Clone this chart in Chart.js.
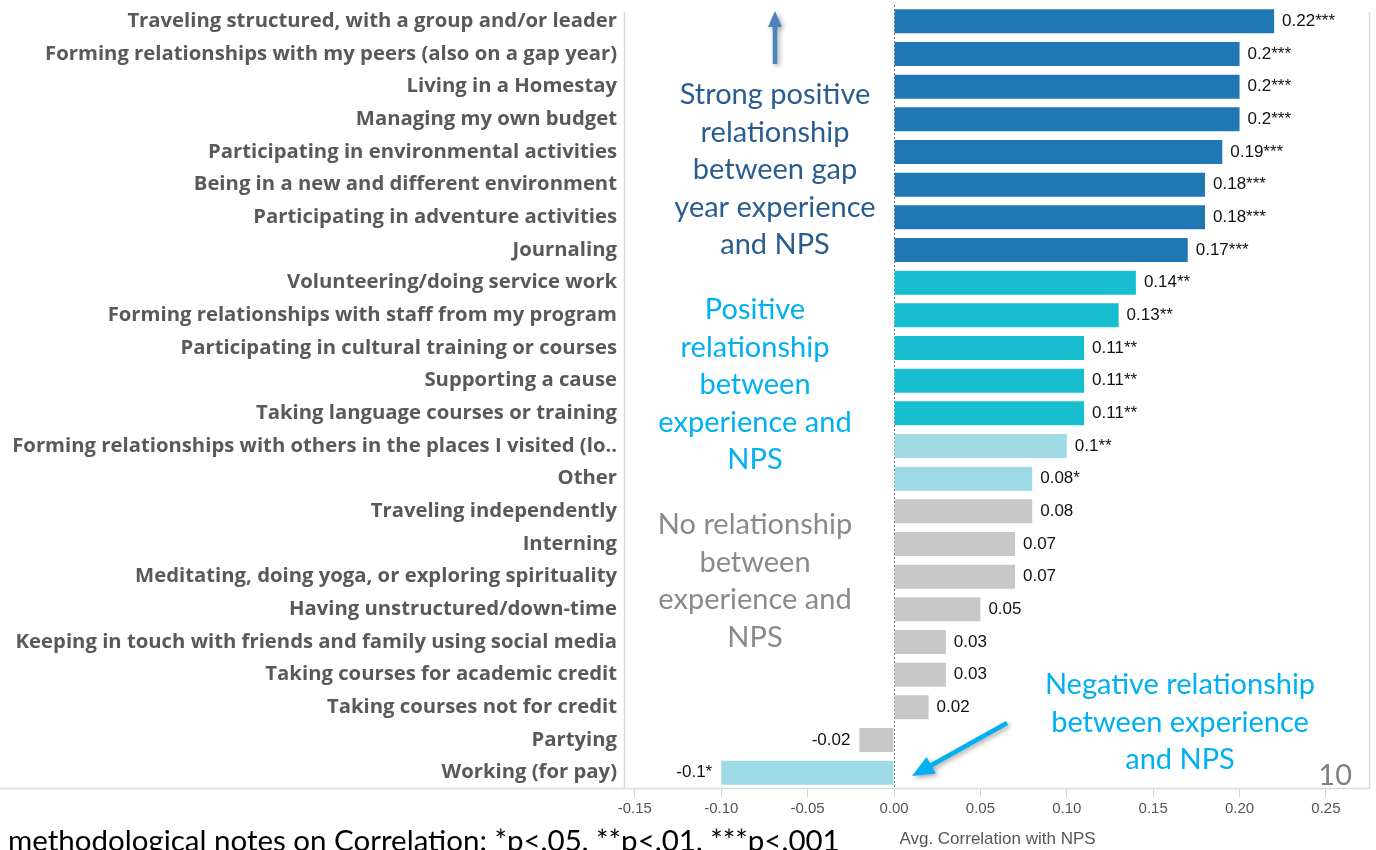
<!DOCTYPE html>
<html>
<head>
<meta charset="utf-8">
<script src="https://cdn.jsdelivr.net/npm/chart.js@4.4.1/dist/chart.umd.min.js"></script>
<style>
html,body{margin:0;padding:0;background:#fff;}
#wrap{position:relative;width:1376px;height:850px;overflow:hidden;}
canvas{display:block;}
</style>
</head>
<body>
<div id="wrap"><canvas id="c" width="1376" height="850"></canvas></div>
<script>
const categories = [
  'Traveling structured, with a group and/or leader',
  'Forming relationships with my peers (also on a gap year)',
  'Living in a Homestay',
  'Managing my own budget',
  'Participating in environmental activities',
  'Being in a new and different environment',
  'Participating in adventure activities',
  'Journaling',
  'Volunteering/doing service work',
  'Forming relationships with staff from my program',
  'Participating in cultural training or courses',
  'Supporting a cause',
  'Taking language courses or training',
  'Forming relationships with others in the places I visited (lo..',
  'Other',
  'Traveling independently',
  'Interning',
  'Meditating, doing yoga, or exploring spirituality',
  'Having unstructured/down-time',
  'Keeping in touch with friends and family using social media',
  'Taking courses for academic credit',
  'Taking courses not for credit',
  'Partying',
  'Working (for pay)'
];
const values = [0.22, 0.2, 0.2, 0.2, 0.19, 0.18, 0.18, 0.17, 0.14, 0.13, 0.11, 0.11, 0.11, 0.1, 0.08, 0.08, 0.07, 0.07, 0.05, 0.03, 0.03, 0.02, -0.02, -0.1];
const significance = ['***','***','***','***','***','***','***','***','**','**','**','**','**','**','*','','','','','','','','','*'];
const tiers = ['strong','strong','strong','strong','strong','strong','strong','strong','positive','positive','positive','positive','positive','weak','weak','none','none','none','none','none','none','none','none','weak'];
const xTicks = [-0.15, -0.1, -0.05, 0, 0.05, 0.1, 0.15, 0.2, 0.25];
const axisTitle = 'Avg. Correlation with NPS';
const footnote = 'methodological notes on Correlation: *p<.05, **p<.01, ***p<.001';
const pageNumber = '10';
const annotations = [
  {lines:['Strong positive','relationship','between gap','year experience','and NPS'], tier:'strongText'},
  {lines:['Positive','relationship','between','experience and','NPS'], tier:'posText'},
  {lines:['No relationship','between','experience and','NPS'], tier:'noneText'},
  {lines:['Negative relationship','between experience','and NPS'], tier:'posText'}
];

const tierColor = {strong:'#1F77B4', positive:'#17BECF', weak:'#9EDAE5', none:'#C7C7C7',
  strongText:'#2A5D8F', posText:'#00B0F0', noneText:'#8A8A8A'};
const annoPos = [[775,95],[755,310],[755,525],[1180,685]];

function arrow(ctx, x1, y1, x2, y2, color, shaft, headLen, headW){
  const a = Math.atan2(y2-y1, x2-x1);
  const L = Math.hypot(x2-x1, y2-y1);
  ctx.save();
  ctx.translate(x1,y1); ctx.rotate(a);
  ctx.shadowColor='rgba(0,0,0,0.35)'; ctx.shadowBlur=5; ctx.shadowOffsetX=2; ctx.shadowOffsetY=2;
  ctx.fillStyle=color;
  ctx.beginPath();
  ctx.moveTo(0,-shaft/2); ctx.lineTo(L-headLen,-shaft/2); ctx.lineTo(L-headLen,-headW/2);
  ctx.lineTo(L,0); ctx.lineTo(L-headLen,headW/2); ctx.lineTo(L-headLen,shaft/2); ctx.lineTo(0,shaft/2);
  ctx.closePath(); ctx.fill();
  ctx.restore();
}

const decor = {
  id:'decor',
  beforeDatasetsDraw(chart){
    const {ctx, chartArea, scales} = chart;
    ctx.save();
    ctx.strokeStyle='#D9D9D9'; ctx.lineWidth=1.5;
    ctx.beginPath();
    ctx.moveTo(0, chartArea.bottom-0.5); ctx.lineTo(chartArea.right, chartArea.bottom-0.5);
    ctx.moveTo(chartArea.left-0.5, 12); ctx.lineTo(chartArea.left-0.5, chartArea.bottom);
    ctx.moveTo(chartArea.right-0.5, 12); ctx.lineTo(chartArea.right-0.5, chartArea.bottom);
    ctx.stroke();
    const x0 = Math.round(scales.x.getPixelForValue(0))+0.5;
    ctx.strokeStyle='#777'; ctx.lineWidth=1; ctx.setLineDash([2,2]);
    ctx.beginPath(); ctx.moveTo(x0, chartArea.top); ctx.lineTo(x0, chartArea.bottom); ctx.stroke();
    ctx.restore();
  },
  afterDatasetsDraw(chart){
    const {ctx} = chart;
    const meta = chart.getDatasetMeta(0);
    ctx.save();
    ctx.textBaseline='middle';
    ctx.font = '17px "Liberation Sans", Arial, sans-serif';
    ctx.fillStyle='#111';
    meta.data.forEach((el,i)=>{
      const v = values[i];
      const txt = String(v) + significance[i];
      if (v >= 0) { ctx.textAlign='left'; ctx.fillText(txt, el.x + 8, el.y); }
      else { ctx.textAlign='right'; ctx.fillText(txt, el.x - 9, el.y); }
    });
    // annotations
    ctx.textAlign='center';
    ctx.font='29px Lato, "Open Sans", sans-serif';
    annotations.forEach((a,k)=>{
      ctx.fillStyle = tierColor[a.tier];
      a.lines.forEach((ln,j)=>{
        ctx.fillText(ln, annoPos[k][0], annoPos[k][1] + j*37.5);
      });
    });
    // page number
    ctx.fillStyle='#7F7F7F'; ctx.textAlign='right';
    ctx.font='29px Lato, "Open Sans", sans-serif';
    ctx.fillText(pageNumber, 1352, 776);
    // footnote
    ctx.fillStyle='#000'; ctx.textAlign='left'; ctx.textBaseline='alphabetic';
    ctx.font='29.5px Lato, "Open Sans", sans-serif';
    ctx.fillText(footnote, 8, 851);
    // arrows
    arrow(ctx, 775, 64, 775, 11, '#4F81BD', 4.5, 16, 14);
    arrow(ctx, 1007, 723, 912, 776, '#00B0F0', 4.5, 22, 19);
    ctx.restore();
  }
};

new Chart(document.getElementById('c'), {
  type:'bar',
  data:{
    labels:categories,
    datasets:[{
      data:values,
      backgroundColor:tiers.map(t=>tierColor[t]),
      barPercentage:0.735,
      categoryPercentage:1
    }]
  },
  options:{
    indexAxis:'y',
    responsive:false,
    animation:false,
    events:[],
    layout:{padding:{top:5, right:6, left:0, bottom:0}},
    plugins:{legend:{display:false}, tooltip:{enabled:false}},
    scales:{
      x:{
        min:-0.1557, max:0.2755,
        afterBuildTicks(s){ s.ticks = xTicks.map(v=>({value:v})); },
        afterFit(s){ s.height = 61; s.paddingLeft = 0; s.paddingRight = 0; },
        grid:{drawOnChartArea:false, drawTicks:true, tickLength:8, color:'#D0D0D0'},
        border:{display:false},
        ticks:{
          color:'#555', padding:3, maxRotation:0,
          font:{family:'"Liberation Sans Narrow", "Arial Narrow", "Liberation Sans", sans-serif', size:15},
          callback:(v)=>Number(v).toFixed(2)
        },
        title:{display:true, text:axisTitle, color:'#555',
          font:{family:'"Liberation Sans", Arial, sans-serif', size:17}, padding:{top:10, bottom:0}}
      },
      y:{
        afterFit(s){ s.width = 625; s.paddingTop = 0; s.paddingBottom = 0; },
        grid:{display:false, drawTicks:false},
        border:{display:false},
        ticks:{autoSkip:false, padding:8, color:'#595959',
          font:{family:'"Open Sans", Lato, sans-serif', weight:'bold', size:20.3}}
      }
    }
  },
  plugins:[decor]
});
</script>
</body>
</html>
